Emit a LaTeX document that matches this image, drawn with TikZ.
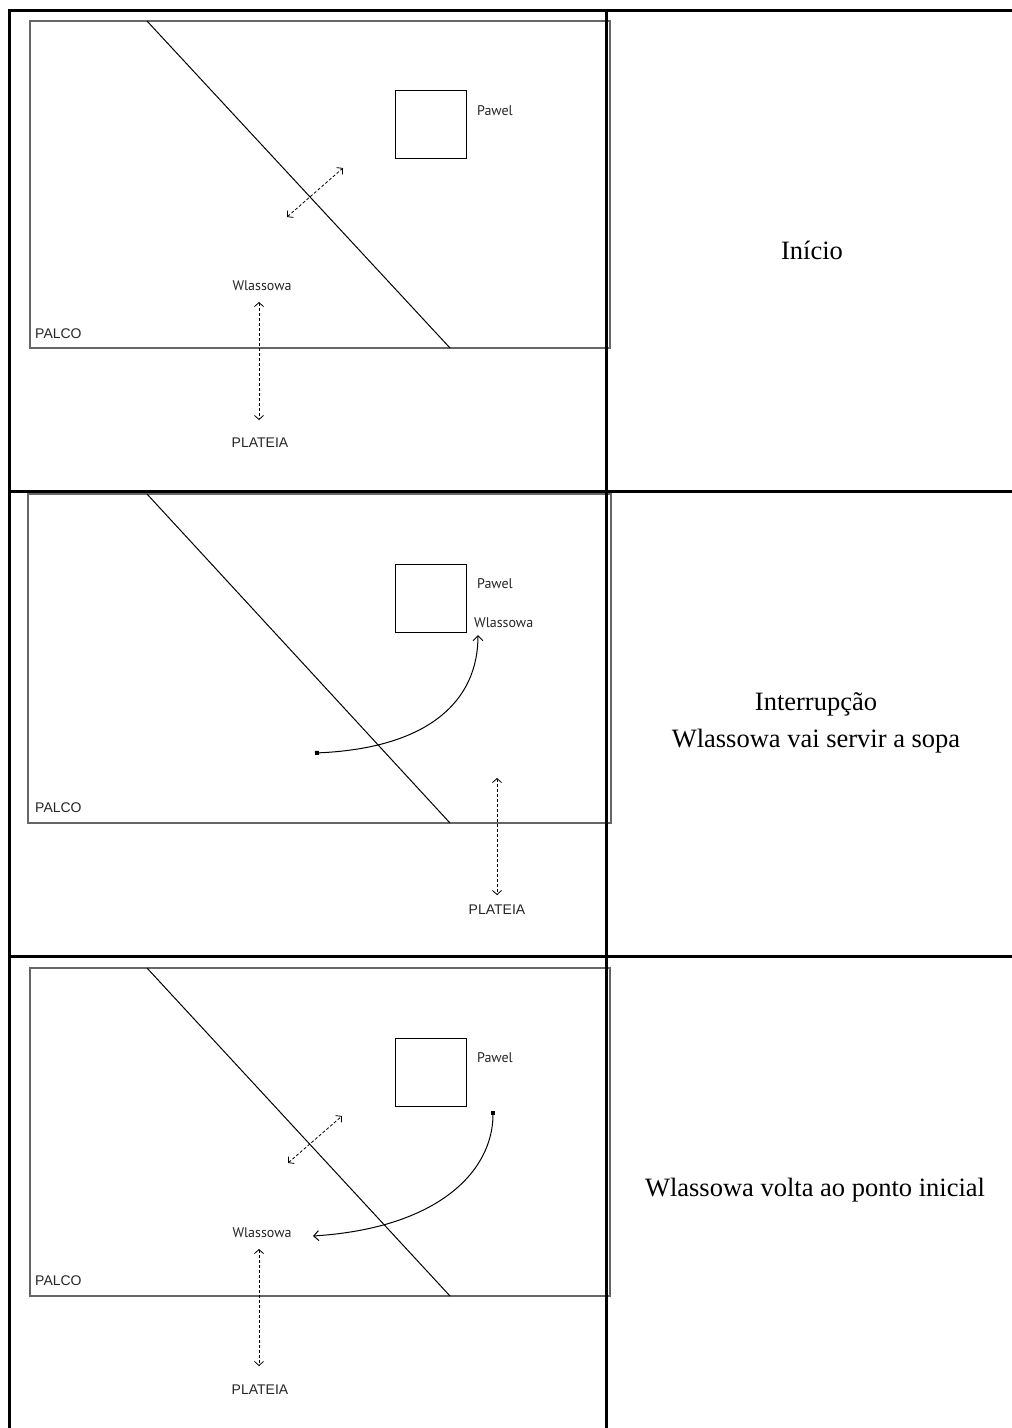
\documentclass[tikz,border=0pt]{standalone}
\usepackage{fontspec}
\setmainfont{Liberation Serif}
\newfontfamily\myr{PT Sans}
\newfontfamily\ari{Liberation Sans}
\usetikzlibrary{arrows.meta}
\begin{document}
\begin{tikzpicture}[x=1pt,y=-1pt,
  tbl/.style={line width=3.4pt,line cap=rect},
  stagebox/.style={draw=black!60,line width=1.4pt},
  diag/.style={line width=1pt},
  sq/.style={draw,line width=0.9pt,minimum width=71pt,minimum height=68pt,inner sep=0pt},
  lbl/.style={font=\myr\fontsize{14}{16}\selectfont,inner sep=0pt,text=black!85},
  place/.style={font=\ari\fontsize{14}{16}\selectfont,inner sep=0pt,text=black!85},
  captext/.style={font=\fontsize{26.5}{37}\selectfont,align=center,inner sep=0pt},
  move/.style={line width=0.8pt,dash pattern=on 3pt off 2pt,
    {Straight Barb[length=4pt,width=9pt]}-{Straight Barb[length=4pt,width=9pt]}},
  walk/.style={line width=1pt,{Square[length=4pt,width=4pt]}-{Straight Barb[length=5pt,width=10pt]}}]
\useasboundingbox (0,0) rectangle (1012,1428);
\fill[white] (0,0) rectangle (1012,1428);

% ---------- panel 1 ----------
\draw[stagebox] (30,21) rectangle (610,348);
\draw[diag] (147,21) -- (450,348);
\node[sq] (sqA) at (430.5,124) {};
\node[lbl,anchor=base west] (pawA) at (477,115) {Pawel};
\node[lbl,anchor=base] (wlA) at (262,290) {Wlassowa};
\node[place,anchor=base west] (palA) at (35,338) {PALCO};
\node[place,anchor=base] (plA) at (260,447) {PLATEIA};
\coordinate (a1) at (287,217); \coordinate (a2) at (343,168);
\draw[move] (a1) -- (a2);
\coordinate (v1) at (259,302); \coordinate (v2) at (259,420);
\draw[move] (v1) -- (v2);
\node[captext] (capA) at (812,250) {Início};

% ---------- panel 2 ----------
\draw[stagebox] (28,494) rectangle (611,823);
\draw[diag] (147,494) -- (450,823);
\node[sq] (sqB) at (430.5,598) {};
\node[lbl,anchor=base west] (pawB) at (477,588) {Pawel};
\node[lbl,anchor=base west] (wlB) at (474,627) {Wlassowa};
\node[place,anchor=base west] (palB) at (35,812) {PALCO};
\node[place,anchor=base] (plB) at (497,914) {PLATEIA};
\coordinate (w1) at (315,753); \coordinate (w2) at (478,635);
\draw[walk] (w1) .. controls (430,748) and (478,700) .. (w2);
\coordinate (u1) at (497,778); \coordinate (u2) at (497,895);
\draw[move] (u1) -- (u2);
\node[captext] (capB) at (816,723) {Interrupção\\Wlassowa vai servir a sopa};

% ---------- panel 3 ----------
\draw[stagebox] (30,968) rectangle (610,1296);
\draw[diag] (147,968) -- (450,1296);
\node[sq] (sqC) at (430.5,1072) {};
\node[lbl,anchor=base west] (pawC) at (477,1062) {Pawel};
\node[lbl,anchor=base] (wlC) at (262,1237) {Wlassowa};
\node[place,anchor=base west] (palC) at (35,1285) {PALCO};
\node[place,anchor=base] (plC) at (260,1394) {PLATEIA};
\coordinate (b1) at (288,1163); \coordinate (b2) at (342,1116);
\draw[move] (b1) -- (b2);
\coordinate (x1) at (493,1111); \coordinate (x2) at (313,1236);
\draw[walk] (x1) .. controls (493,1170) and (440,1228) .. (x2);
\coordinate (t1) at (259,1249); \coordinate (t2) at (259,1366);
\draw[move] (t1) -- (t2);
\node[captext] (capC) at (815,1190) {Wlassowa volta ao ponto inicial};

% ---------- table ----------
\draw[tbl] (9.5,10.5) -- (1012,10.5);
\draw[tbl] (9.5,10.5) -- (9.5,1428);
\draw[tbl] (606.5,10.5) -- (606.5,1428);
\draw[tbl] (9.5,491.5) -- (1012,491.5);
\draw[tbl] (9.5,956.5) -- (1012,956.5);
\end{tikzpicture}
\end{document}
